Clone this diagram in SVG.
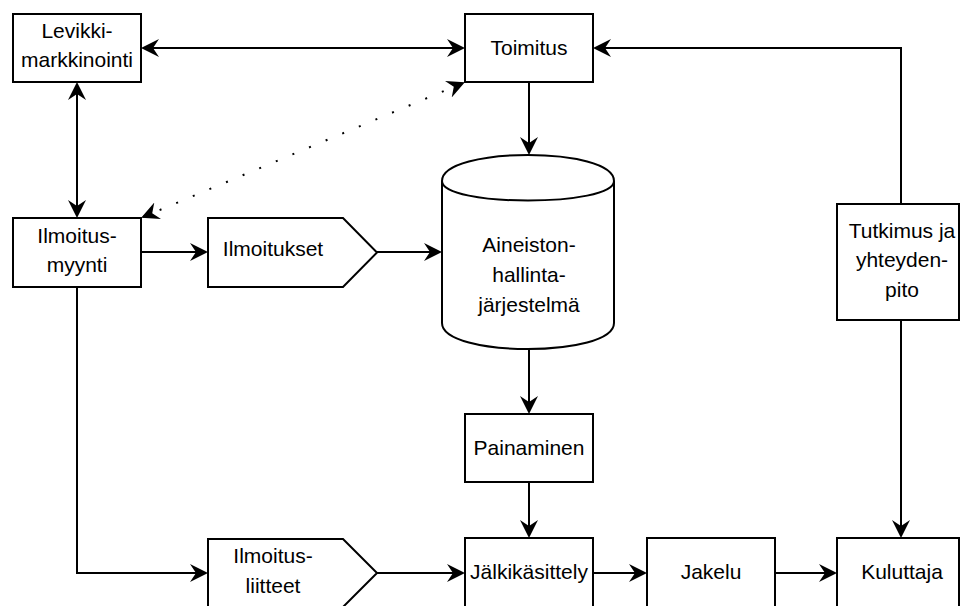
<svg xmlns="http://www.w3.org/2000/svg" width="961" height="606" viewBox="0 0 961 606">
<style>
.box{fill:#fff;stroke:#000;stroke-width:2}
.t{font-family:"Liberation Sans",Arial,sans-serif;font-size:21px;fill:#000;text-anchor:middle}
.c{fill:none;stroke:#000;stroke-width:2}
.dot{stroke-dasharray:2 16}
</style>
<defs>
<marker id="a" viewBox="0 0 18 18" markerWidth="18" markerHeight="18" refX="16" refY="9" orient="auto-start-reverse" markerUnits="userSpaceOnUse">
<path d="M18,9 L0,0 L6,9 L0,18 Z" fill="#000"/>
</marker>
</defs>
<rect width="961" height="606" fill="#fff"/>
<g id="connectors">
<path class="c" d="M143,48 H463" marker-start="url(#a)" marker-end="url(#a)"/>
<path class="c" d="M77,84 V216" marker-start="url(#a)" marker-end="url(#a)"/>
<path class="c dot" d="M143,217 L463,83" marker-start="url(#a)" marker-end="url(#a)"/>
<path class="c" d="M141,252 H206" marker-end="url(#a)"/>
<path class="c" d="M377,252 H440" marker-end="url(#a)"/>
<path class="c" d="M529,82 V153" marker-end="url(#a)"/>
<path class="c" d="M529,349 V412" marker-end="url(#a)"/>
<path class="c" d="M529,482 V536" marker-end="url(#a)"/>
<path class="c" d="M77,287 V573 H206" marker-end="url(#a)"/>
<path class="c" d="M377,573 H463" marker-end="url(#a)"/>
<path class="c" d="M593,573 H645" marker-end="url(#a)"/>
<path class="c" d="M775,573 H835" marker-end="url(#a)"/>
<path class="c" d="M901,204 V48 H595" marker-end="url(#a)"/>
<path class="c" d="M901,320 V536" marker-end="url(#a)"/>
</g>
<g id="levikki">
<rect class="box" x="13" y="14" width="128" height="68"/>
<text class="t" x="77" y="38">Levikki-</text>
<text class="t" x="77" y="67">markkinointi</text>
</g>
<g id="toimitus">
<rect class="box" x="465" y="14" width="128" height="68"/>
<text class="t" x="529" y="55">Toimitus</text>
</g>
<g id="ilmoitusmyynti">
<rect class="box" x="13" y="218" width="128" height="69"/>
<text class="t" x="77" y="243">Ilmoitus-</text>
<text class="t" x="77" y="272">myynti</text>
</g>
<g id="ilmoitukset">
<path class="box" d="M208,218 H343 L377,252.5 L343,287 H208 Z"/>
<text class="t" x="273" y="256">Ilmoitukset</text>
</g>
<g id="aineisto">
<path class="box" d="M442,181 C442,146.3 614,146.3 614,181 V323 C614,357.7 442,357.7 442,323 Z"/>
<path class="c" d="M442,181 C442,207 614,207 614,181"/>
<text class="t" x="529" y="252">Aineiston-</text>
<text class="t" x="529" y="282">hallinta-</text>
<text class="t" x="529" y="312">järjestelmä</text>
</g>
<g id="tutkimus">
<rect class="box" x="837" y="204" width="122" height="116"/>
<text class="t" x="902" y="238">Tutkimus ja</text>
<text class="t" x="902" y="267">yhteyden-</text>
<text class="t" x="902" y="297">pito</text>
</g>
<g id="painaminen">
<rect class="box" x="465" y="414" width="128" height="68"/>
<text class="t" x="529" y="455">Painaminen</text>
</g>
<g id="ilmoitusliitteet">
<path class="box" d="M208,539 H343 L377,573 L343,607 H208 Z"/>
<text class="t" x="273" y="563">Ilmoitus-</text>
<text class="t" x="273" y="593">liitteet</text>
</g>
<g id="jalkikasittely">
<rect class="box" x="465" y="538" width="128" height="70"/>
<text class="t" x="529" y="579">Jälkikäsittely</text>
</g>
<g id="jakelu">
<rect class="box" x="647" y="538" width="128" height="70"/>
<text class="t" x="711" y="579">Jakelu</text>
</g>
<g id="kuluttaja">
<rect class="box" x="837" y="538" width="122" height="70"/>
<text class="t" x="902" y="579">Kuluttaja</text>
</g>
</svg>
